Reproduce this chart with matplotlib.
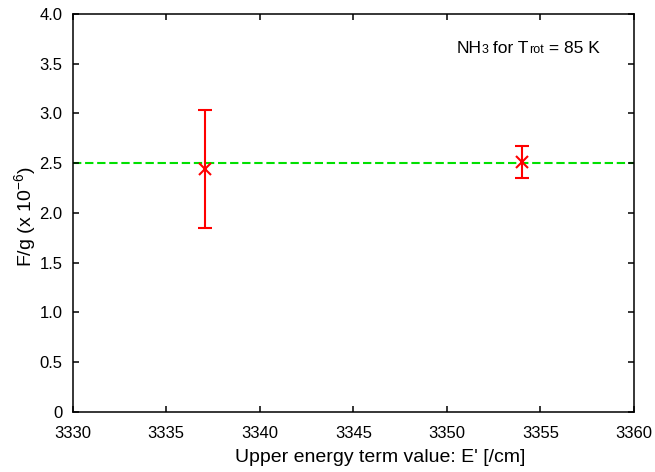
import matplotlib.pyplot as plt
from matplotlib.offsetbox import TextArea, HPacker, AnchoredOffsetbox

plt.rcParams['font.family'] = ['Liberation Sans', 'DejaVu Sans']
plt.rcParams['mathtext.fontset'] = 'custom'
plt.rcParams['mathtext.rm'] = 'Liberation Sans'
plt.rcParams['mathtext.it'] = 'Liberation Sans:italic'
plt.rcParams['mathtext.default'] = 'regular'
plt.rcParams['axes.unicode_minus'] = False

# data
energy = [3337.07, 3354.0]
f_over_g = [2.44, 2.515]
err_up = [0.595, 0.16]
err_down = [0.59, 0.16]
ref_level = 2.5

x_ticks = [3330, 3335, 3340, 3345, 3350, 3355, 3360]
y_ticks = [0, 0.5, 1.0, 1.5, 2.0, 2.5, 3.0, 3.5, 4.0]

fig = plt.figure(figsize=(6.55, 4.72), dpi=100)
ax = fig.add_axes([0.111, 0.1278, 0.857, 0.8425])

ax.axhline(ref_level, color='#00e000', lw=1.5, ls=(0, (4, 1.8)), zorder=1)
ax.errorbar(energy, f_over_g, yerr=[err_down, err_up], fmt='x', color='red',
            ms=9, mew=1.5, elinewidth=1.5, capsize=5, capthick=1.5, zorder=3)

ax.set_xlim(3330, 3360)
ax.set_ylim(0, 4.0)
ax.set_xticks(x_ticks)
ax.set_yticks(y_ticks)
ax.set_yticklabels(['0' if v == 0 else f'{v:.1f}' for v in y_ticks])
ax.tick_params(direction='in', length=4, width=1.1, top=True, right=True,
               labelsize=12)
ax.tick_params(axis='x', pad=10.5)
ax.tick_params(axis='y', pad=7.5)
for s in ax.spines.values():
    s.set_linewidth(1.1)

ax.set_xlabel("Upper energy term value: E' [/cm]", fontsize=14)
ax.xaxis.set_label_coords(0.547, -0.095)
ax.set_ylabel(r"F/g (x 10$^{-6}$)", fontsize=14)
ax.yaxis.set_label_coords(-0.062, 0.49)

# label with small inline subscripts, gnuplot style
parts = [("NH", 12.5), ("3", 9), (" for T", 12.5), ("rot", 9), (" = 85 K", 12.5)]
boxes = [TextArea(t, textprops=dict(fontsize=s)) for t, s in parts]
pack = HPacker(children=boxes, align="baseline", pad=0, sep=0)
anchored = AnchoredOffsetbox(loc='upper right', child=pack, frameon=False,
                             bbox_to_anchor=(0.948, 0.945),
                             bbox_transform=ax.transAxes, borderpad=0)
ax.add_artist(anchored)

fig.savefig('out.png', dpi=100)
